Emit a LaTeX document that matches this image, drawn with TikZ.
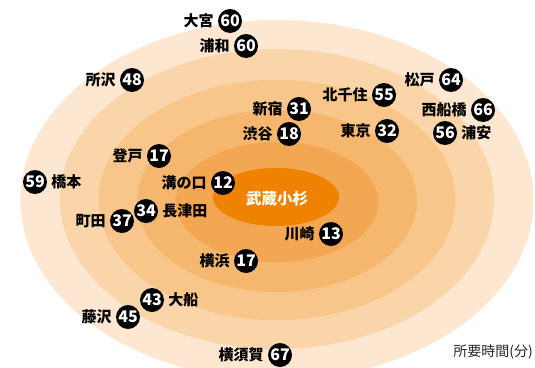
\documentclass[tikz,border=0pt]{standalone}
\usepackage{fontspec}
\newfontfamily\jpfont{Noto Sans CJK JP}
\usetikzlibrary{positioning}
\definecolor{bandA}{HTML}{FDE7D0}
\definecolor{bandB}{HTML}{FAD5A9}
\definecolor{bandC}{HTML}{F8C58A}
\definecolor{bandD}{HTML}{F5B76E}
\definecolor{bandE}{HTML}{F3A752}
\definecolor{bandF}{HTML}{EF8300}
\tikzset{
  num/.style={circle, fill=black, text=white, inner sep=0pt, minimum size=24pt,
    font=\jpfont\bfseries\fontsize{16}{16}\selectfont},
  lbl/.style={inner sep=0pt, text=black, font=\jpfont\bfseries\fontsize{15}{15}\selectfont},
  hub/.style={inner sep=0pt, text=white, font=\jpfont\bfseries\fontsize{15.5}{15.5}\selectfont},
  captiontext/.style={inner sep=0pt, text=black!85, font=\jpfont\fontsize{14}{14}\selectfont},
}
\begin{document}
\begin{tikzpicture}[x=1pt,y=-1pt]
\useasboundingbox (0,0) rectangle (535,367);
\begin{scope}
\clip (0,0) rectangle (535,367);
\fill[bandA] (277,200) ellipse [x radius=256.5pt, y radius=180pt];
\fill[bandB] (277,199) ellipse [x radius=217pt, y radius=150pt];
\fill[bandC] (277,200) ellipse [x radius=178.5pt, y radius=120pt];
\fill[bandD] (277,201) ellipse [x radius=140pt, y radius=91pt];
\fill[bandE] (277,202) ellipse [x radius=101.5pt, y radius=60pt];
\fill[bandF] (276,197) ellipse [x radius=63pt, y radius=29pt];
\end{scope}
\node[hub] (kosugi) at (277,199) {武蔵小杉};

\node[num] (omiya) at (230,21) {60};
\node[lbl, left=4pt of omiya] (omiya-l) {大宮};
\node[num] (urawa) at (246,46) {60};
\node[lbl, left=4pt of urawa] (urawa-l) {浦和};
\node[num] (tokorozawa) at (132,80) {48};
\node[lbl, left=4pt of tokorozawa] (tokorozawa-l) {所沢};
\node[num] (noborito) at (159,156) {17};
\node[lbl, left=4pt of noborito] (noborito-l) {登戸};
\node[num] (hashimoto) at (35,182) {59};
\node[lbl, right=4pt of hashimoto] (hashimoto-l) {橋本};
\node[num] (mizonokuchi) at (223,183) {12};
\node[lbl, left=4pt of mizonokuchi] (mizonokuchi-l) {溝の口};
\node[num] (shinjuku) at (299,109) {31};
\node[lbl, left=4pt of shinjuku] (shinjuku-l) {新宿};
\node[num] (shibuya) at (289,134) {18};
\node[lbl, left=4pt of shibuya] (shibuya-l) {渋谷};
\node[num] (kitasenju) at (384,95) {55};
\node[lbl, left=4pt of kitasenju] (kitasenju-l) {北千住};
\node[num] (matsudo) at (451,80) {64};
\node[lbl, left=4pt of matsudo] (matsudo-l) {松戸};
\node[num] (nishifunabashi) at (483,110) {66};
\node[lbl, left=4pt of nishifunabashi] (nishifunabashi-l) {西船橋};
\node[num] (tokyo) at (387,131) {32};
\node[lbl, left=4pt of tokyo] (tokyo-l) {東京};
\node[num] (urayasu) at (445,133) {56};
\node[lbl, right=4pt of urayasu] (urayasu-l) {浦安};
\node[num] (nagatsuta) at (146,211) {34};
\node[lbl, right=4pt of nagatsuta] (nagatsuta-l) {長津田};
\node[num] (machida) at (122,221) {37};
\node[lbl, left=4pt of machida] (machida-l) {町田};
\node[num] (yokohama) at (246,261) {17};
\node[lbl, left=4pt of yokohama] (yokohama-l) {横浜};
\node[num] (kawasaki) at (331,234) {13};
\node[lbl, left=4pt of kawasaki] (kawasaki-l) {川崎};
\node[num] (ofuna) at (152,300) {43};
\node[lbl, right=4pt of ofuna] (ofuna-l) {大船};
\node[num] (fujisawa) at (128,317) {45};
\node[lbl, left=4pt of fujisawa] (fujisawa-l) {藤沢};
\node[num] (yokosuka) at (280,355) {67};
\node[lbl, left=4pt of yokosuka] (yokosuka-l) {横須賀};

\node[captiontext, anchor=east] (caption) at (533,352) {所要時間(分)};
\end{tikzpicture}
\end{document}
